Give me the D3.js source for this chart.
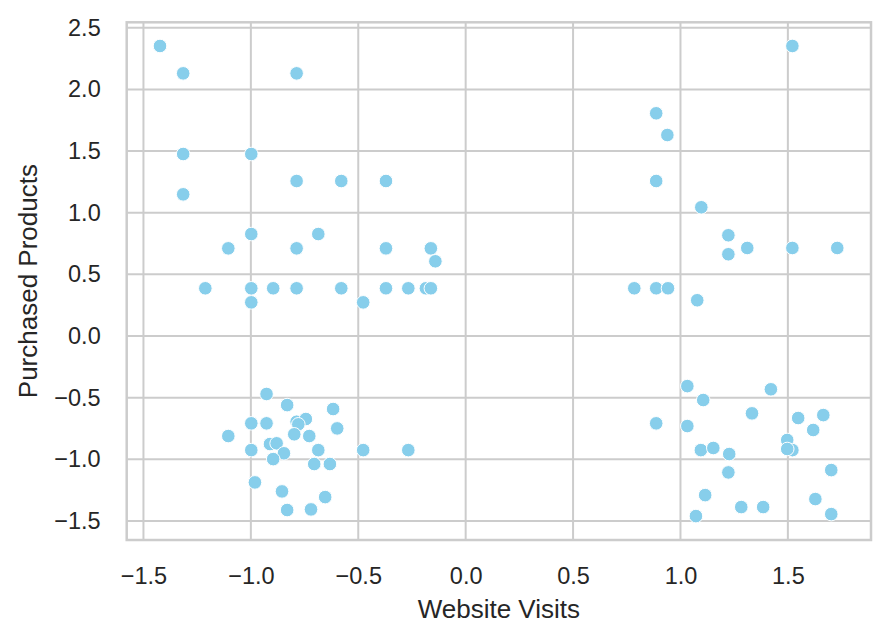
<!DOCTYPE html>
<html lang="en">
<head>
    <meta charset="UTF-8">
    <title>Website Visits vs Purchased Products</title>
    <style>
        html, body {
            margin: 0;
            padding: 0;
            background-color: #ffffff;
        }
        svg {
            display: block;
            font-family: 'Liberation Sans', Arial, sans-serif;
        }
        .tick text {
            fill: #262626;
        }
    </style>
</head>
<body>
    <div id="chart"></div>
    <script src="https://d3js.org/d3.v7.min.js"></script>
    <script>
        // DATA
        const websiteVisits = [
            -1.423, -1.315, -0.787, -1.315, -0.998, -0.787, -0.579, -0.371, -1.315,
            -0.998, -1.105, -0.787, -0.686, -0.371, -0.162, -0.141,
            -1.212, -0.998, -0.896, -0.787, -0.579, -0.371, -0.267, -0.185, -0.162,
            -0.998, -0.477,
            -0.927, -0.831, -0.617, -0.998, -0.927, -0.787, -0.744, -0.779, -0.598,
            -1.105, -0.798, -0.728, -0.998, -0.911, -0.880, -0.846, -0.896, -0.686,
            -0.477, -0.267, -0.705, -0.632, -0.981, -0.855, -0.654, -0.831, -0.720,
            1.521, 0.887, 0.939, 0.887, 1.097, 1.223, 1.311, 1.521, 1.730, 1.223,
            0.785, 0.887, 0.942, 1.078,
            1.032, 1.106, 1.421, 1.333, 1.548, 1.665, 1.618, 0.887, 1.032, 1.497,
            1.521, 1.497, 1.095, 1.153, 1.227, 1.223, 1.702, 1.115, 1.283, 1.385,
            1.628, 1.072, 1.702
        ];
        const purchasedProducts = [
            2.352, 2.130, 2.130, 1.476, 1.476, 1.257, 1.257, 1.257, 1.149,
            0.827, 0.711, 0.711, 0.827, 0.711, 0.711, 0.606,
            0.387, 0.387, 0.387, 0.387, 0.387, 0.387, 0.387, 0.387, 0.387,
            0.273, 0.273,
            -0.470, -0.560, -0.592, -0.708, -0.708, -0.695, -0.673, -0.716, -0.749,
            -0.811, -0.797, -0.811, -0.925, -0.876, -0.870, -0.951, -0.998, -0.925,
            -0.925, -0.925, -1.038, -1.038, -1.187, -1.260, -1.306, -1.411, -1.406,
            2.352, 1.806, 1.630, 1.257, 1.044, 0.817, 0.714, 0.714, 0.714, 0.663,
            0.387, 0.387, 0.387, 0.290,
            -0.406, -0.519, -0.432, -0.627, -0.665, -0.641, -0.762, -0.708, -0.730, -0.843,
            -0.925, -0.916, -0.925, -0.908, -0.957, -1.106, -1.087, -1.290, -1.387, -1.387,
            -1.322, -1.460, -1.444
        ];
        const xTicks = [-1.5, -1.0, -0.5, 0.0, 0.5, 1.0, 1.5];
        const yTicks = [-1.5, -1.0, -0.5, 0.0, 0.5, 1.0, 1.5, 2.0, 2.5];

        const points = websiteVisits.map((v, i) => ({x: v, y: purchasedProducts[i]}));

        const W = 889, H = 642;
        const margin = {top: 22.3, left: 126.7, bottom: 102, right: 18};
        const width = W - margin.left - margin.right;
        const height = H - margin.top - margin.bottom;

        const svg = d3.select("#chart")
            .append("svg")
            .attr("width", W)
            .attr("height", H);

        const x_scale = d3.scaleLinear()
            .domain([-1.578, 1.887])
            .range([0, width]);
        const y_scale = d3.scaleLinear()
            .domain([-1.654, 2.544])
            .range([height, 0]);

        const g = svg.append("g")
            .attr("transform", `translate(${margin.left}, ${margin.top})`);

        // GRID
        g.append("g")
            .selectAll("line")
            .data(xTicks).enter()
            .append("line")
            .attr("x1", d => x_scale(d))
            .attr("x2", d => x_scale(d))
            .attr("y1", 0)
            .attr("y2", height)
            .style("stroke", "#cccccc")
            .style("stroke-width", 2);

        g.append("g")
            .selectAll("line")
            .data(yTicks).enter()
            .append("line")
            .attr("x1", 0)
            .attr("x2", width)
            .attr("y1", d => y_scale(d))
            .attr("y2", d => y_scale(d))
            .style("stroke", "#cccccc")
            .style("stroke-width", 2);

        // AXES
        const fmt = d => d3.format(".1f")(d).replace("-", "\u2212");

        const x_axis = d3.axisBottom(x_scale)
            .tickValues(xTicks)
            .tickFormat(fmt)
            .tickSize(0)
            .tickPadding(27);
        g.append("g")
            .attr("transform", `translate(0, ${height})`)
            .call(x_axis)
            .call(a => a.select(".domain").remove())
            .selectAll("text")
            .style("font-size", "23.5px");

        const y_axis = d3.axisLeft(y_scale)
            .tickValues(yTicks)
            .tickFormat(fmt)
            .tickSize(0)
            .tickPadding(26);
        g.append("g")
            .call(y_axis)
            .call(a => a.select(".domain").remove())
            .selectAll("text")
            .style("font-size", "23.5px");

        // SPINES
        g.append("rect")
            .attr("width", width)
            .attr("height", height)
            .style("fill", "none")
            .style("stroke", "#cccccc")
            .style("stroke-width", 2.5);

        // POINTS
        g.selectAll("circle")
            .data(points).enter()
            .append("circle")
            .attr("cx", d => x_scale(d.x))
            .attr("cy", d => y_scale(d.y))
            .attr("r", 6.8)
            .style("fill", "#87ceeb")
            .style("stroke", "#ffffff")
            .style("stroke-width", 1);

        // AXIS LABELS
        svg.append("text")
            .attr("x", margin.left + width / 2)
            .attr("y", 618)
            .attr("text-anchor", "middle")
            .style("font-size", "26px")
            .style("fill", "#262626")
            .text("Website Visits");

        svg.append("text")
            .attr("transform", `translate(37, ${margin.top + height / 2}) rotate(-90)`)
            .attr("text-anchor", "middle")
            .style("font-size", "26px")
            .style("fill", "#262626")
            .text("Purchased Products");
    </script>
</body>
</html>
